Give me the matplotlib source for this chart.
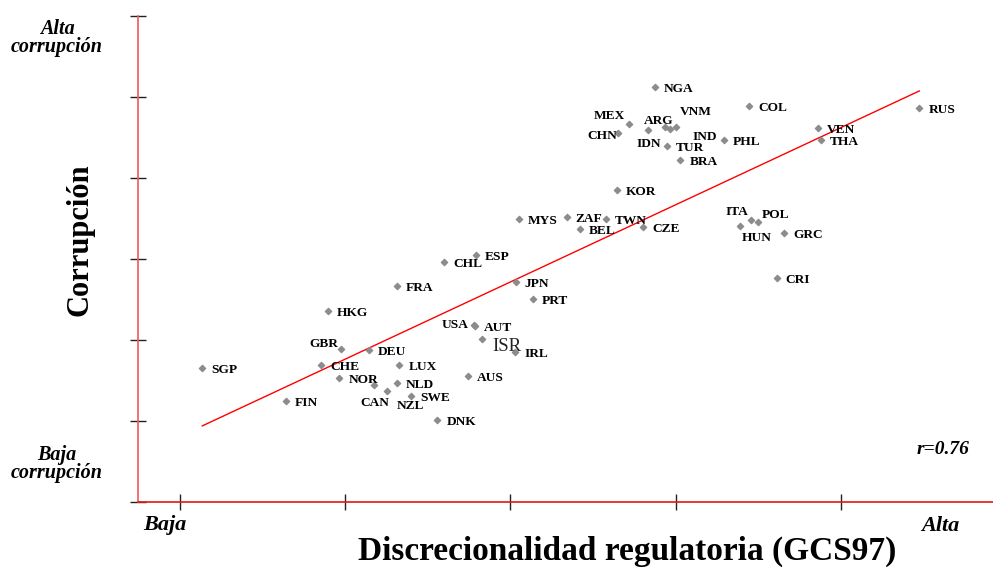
import matplotlib
matplotlib.use("Agg")
import matplotlib.pyplot as plt
import numpy as np

# datos (discrecionalidad, corrupcion)
paises = ["NGA", "COL", "RUS", "MEX", "CHN", "ARG", "VNM", "IND", "IDN", "TUR",
          "PHL", "BRA", "VEN", "THA", "KOR", "MYS", "ZAF", "TWN", "BEL", "CZE",
          "ITA", "POL", "HUN", "GRC", "CRI", "JPN", "ESP", "CHL", "FRA", "PRT",
          "HKG", "USA", "AUT", "ISR", "IRL", "GBR", "DEU", "SGP", "CHE", "LUX",
          "NOR", "AUS", "CAN", "NZL", "NLD", "SWE", "FIN", "DNK"]
discrecionalidad = [3.874, 4.443, 5.474, 3.717, 3.652, 3.830, 4.002, 3.965, 3.937, 3.947,
                    4.292, 4.028, 4.859, 4.879, 3.643, 3.051, 3.340, 3.578, 3.421, 3.804,
                    4.454, 4.496, 4.389, 4.657, 4.611, 3.031, 2.791, 2.598, 2.311, 3.134,
                    1.897, 2.779, 2.785, 2.828, 3.029, 1.974, 2.141, 1.135, 1.855, 2.327,
                    1.964, 2.743, 2.174, 2.253, 2.313, 2.400, 1.641, 2.557]
corrupcion = [5.127, 4.885, 4.868, 4.667, 4.559, 4.593, 4.626, 4.605, 4.633, 4.391,
              4.469, 4.222, 4.621, 4.469, 3.852, 3.490, 3.522, 3.490, 3.370, 3.399,
              3.481, 3.461, 3.411, 3.325, 2.769, 2.710, 3.049, 2.963, 2.670, 2.506,
              2.358, 2.185, 2.179, 2.009, 1.848, 1.889, 1.877, 1.658, 1.691, 1.691,
              1.527, 1.559, 1.444, 1.374, 1.473, 1.312, 1.251, 1.012]

# recta de ajuste
pendiente = 0.953
intercepto = -0.142

# desplazamiento de etiquetas en pixeles (por defecto a la derecha)
desp = {
    "MEX": (-4, 8, "right"), "CHN": (-1, -3, "right"), "ARG": (-4, 9, "left"),
    "VNM": (4, 15, "left"), "IND": (23, -8, "left"), "IDN": (-4, -17, "right"),
    "ITA": (-3, 8, "right"), "POL": (4, 7, "left"), "HUN": (2, -12, "left"),
    "USA": (-5, 0, "right"), "GBR": (-3, 5, "right"), "CAN": (1, -18, "center"),
    "NZL": (10, -15, "left"), "ISR": (10, -7, "left"),
}

W, H = 993, 570
fig = plt.figure(figsize=(W / 100, H / 100), dpi=100)
ax = fig.add_axes([138 / W, (H - 502) / H, (W - 138) / W, 486 / H])
ax.set_xlim(0.7458, 5.92)
ax.set_ylim(0, 6)

ax.spines["top"].set_visible(False)
ax.spines["right"].set_visible(False)
ax.spines["left"].set_color("#f05a5a")
ax.spines["bottom"].set_color("#e01818")
ax.spines["left"].set_linewidth(1.2)
ax.spines["bottom"].set_linewidth(1.2)

ax.set_xticks([1, 2, 3, 4, 5])
ax.set_yticks([0, 1, 2, 3, 4, 5, 6])
ax.set_xticklabels([])
ax.set_yticklabels([])
ax.tick_params(axis="y", direction="inout", length=12.2, width=1, color="#222222")
ax.tick_params(axis="x", direction="inout", length=11.5, width=1, color="#222222")

xs = np.array([min(discrecionalidad), max(discrecionalidad)])
ax.plot(xs, intercepto + pendiente * xs, color="red", lw=1, zorder=2)

ax.scatter(discrecionalidad, corrupcion, marker="D", s=10, color="#8c8c8c", zorder=3, clip_on=False)

for p, x, y in zip(paises, discrecionalidad, corrupcion):
    dx, dy, ha = desp.get(p, (9, -2, "left"))
    if p == "ISR":
        ax.annotate(p, (x, y), xytext=(dx, dy), textcoords="offset pixels",
                    ha=ha, va="center", family="Liberation Serif", fontsize=13.5,
                    color="#222222")
    else:
        ax.annotate(p, (x, y), xytext=(dx, dy), textcoords="offset pixels",
                    ha=ha, va="center", family="Liberation Serif", fontweight="bold",
                    fontsize=9.6, color="black")


def texto(px, py, s, **kw):
    fig.text(px / W, 1 - py / H, s, ha="center", va="center",
             family="Liberation Serif", color="black", **kw)


texto(57, 38, "Alta\ncorrupción", fontsize=14.5, fontweight="bold", style="italic", linespacing=0.85)
texto(57, 464, "Baja\ncorrupción", fontsize=14.5, fontweight="bold", style="italic", linespacing=0.85)
texto(80, 240, "Corrupción", fontsize=22, fontweight="bold", rotation=90)
texto(627, 551, "Discrecionalidad regulatoria (GCS97)", fontsize=24, fontweight="bold")
texto(165, 525, "Baja", fontsize=16, fontweight="bold", style="italic")
texto(940, 526, "Alta", fontsize=16, fontweight="bold", style="italic")
texto(943, 450, "r=0.76", fontsize=14, fontweight="bold", style="italic")

fig.savefig("out.png", dpi=100)
